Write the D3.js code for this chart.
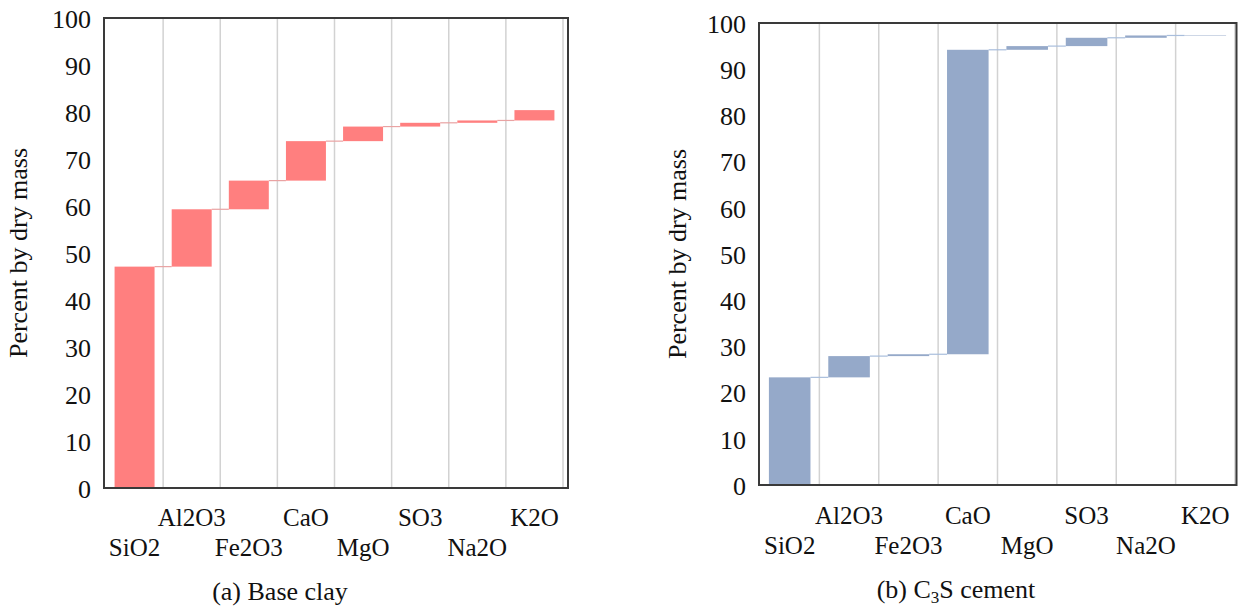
<!DOCTYPE html>
<html>
<head>
<meta charset="utf-8">
<script src="https://cdn.jsdelivr.net/npm/d3@7"></script>
<style>
html, body { margin: 0; padding: 0; background: #ffffff; }
</style>
</head>
<body>
<svg id="chart" width="1242" height="608"></svg>
<script>
// ---- data ----
const categories = ["SiO2", "Al2O3", "Fe2O3", "CaO", "MgO", "SO3", "Na2O", "K2O"];
const clayValues = [47.1, 12.2, 6.1, 8.4, 3.1, 0.8, 0.5, 2.2];
const cementValues = [23.3, 4.6, 0.4, 65.9, 0.8, 1.8, 0.5, 0.1];
const yTicks = [0, 10, 20, 30, 40, 50, 60, 70, 80, 90, 100];
const yDomain = [0, 100];
const axisTitle = "Percent by dry mass";

const FONT = "Liberation Serif";

const svg = d3.select("#chart");

const panels = [
  {
    values: clayValues,
    caption: [{ t: "(a) Base clay" }],
    frame: { x0: 104, x1: 568, y0: 18, y1: 488 },
    plotX: [106, 563],
    plotY: [488, 18],
    tickLabelX: 91,
    titleX: 27,
    captionX: 280, captionY: 600,
    row1Y: 526, row2Y: 556,
    barColor: "#ff7f7f",
    connColor: "#e9a3a3"
  },
  {
    values: cementValues,
    caption: [{ t: "(b) C" }, { t: "3", sub: true }, { t: "S cement" }],
    frame: { x0: 759, x1: 1236.5, y0: 23, y1: 485 },
    plotX: [760, 1235],
    plotY: [485, 23],
    tickLabelX: 746,
    titleX: 686,
    captionX: 956, captionY: 598,
    row1Y: 524, row2Y: 554,
    barColor: "#95a9c9",
    connColor: "#a9bedc"
  }
];

function styleText(sel, size) {
  return sel.attr("font-family", FONT).attr("font-size", size).attr("fill", "#111111");
}

function drawPanel(p) {
  const g = svg.append("g");
  const x = d3.scaleBand().domain(categories).range(p.plotX)
    .paddingInner(0.3).paddingOuter(0.15);
  const y = d3.scaleLinear().domain(yDomain).range(p.plotY);
  const step = x.step();
  const bw = x.bandwidth();
  const edge = c => x(c) - step * 0.15;

  // vertical gridlines at category boundaries
  const bounds = categories.map(edge).concat([edge(categories[categories.length - 1]) + step]);
  g.append("g").selectAll("line").data(bounds.slice(1)).join("line")
    .attr("x1", d => d).attr("x2", d => d)
    .attr("y1", p.frame.y0).attr("y2", p.frame.y1)
    .attr("stroke", "#d2d2d2").attr("stroke-width", 1.5);

  // waterfall bars
  let cum = 0;
  const rows = p.values.map((v, i) => {
    const r = { cat: categories[i], start: cum, end: cum + v };
    cum += v;
    return r;
  });

  // connectors
  g.append("g").selectAll("line").data(rows.slice(0, -1)).join("line")
    .attr("x1", d => x(d.cat) + bw)
    .attr("x2", (d, i) => x(rows[i + 1].cat))
    .attr("y1", d => y(d.end)).attr("y2", d => y(d.end))
    .attr("stroke", p.connColor).attr("stroke-width", 1.2);

  g.append("g").selectAll("rect").data(rows).join("rect")
    .attr("x", d => x(d.cat))
    .attr("width", bw)
    .attr("y", d => y(d.end))
    .attr("height", d => y(d.start) - y(d.end))
    .attr("fill", p.barColor);

  // frame
  g.append("rect")
    .attr("x", p.frame.x0).attr("y", p.frame.y0)
    .attr("width", p.frame.x1 - p.frame.x0).attr("height", p.frame.y1 - p.frame.y0)
    .attr("fill", "none").attr("stroke", "#3a3a3a").attr("stroke-width", 2);

  // y tick labels
  styleText(g.append("g").selectAll("text").data(yTicks).join("text"), 26)
    .attr("x", p.tickLabelX).attr("y", d => y(d))
    .attr("dy", "0.38em")
    .attr("text-anchor", "end")
    .text(d => d);

  // x category labels, staggered rows
  styleText(g.append("g").selectAll("text").data(categories).join("text"), 25)
    .attr("x", d => x(d) + bw / 2)
    .attr("y", (d, i) => (i % 2 === 1 ? p.row1Y : p.row2Y))
    .attr("text-anchor", "middle")
    .text(d => d);

  // axis title
  const cy = (p.frame.y0 + p.frame.y1) / 2;
  styleText(g.append("text"), 26)
    .attr("transform", `translate(${p.titleX},${cy}) rotate(-90)`)
    .attr("text-anchor", "middle")
    .text(axisTitle);

  // caption
  const cap = styleText(g.append("text"), 26)
    .attr("x", p.captionX).attr("y", p.captionY)
    .attr("text-anchor", "middle");
  let shifted = false;
  p.caption.forEach(part => {
    const ts = cap.append("tspan").text(part.t);
    if (part.sub) {
      ts.attr("font-size", 17).attr("dy", 5);
      shifted = true;
    } else if (shifted) {
      ts.attr("dy", -5);
      shifted = false;
    }
  });
}

panels.forEach(drawPanel);
</script>
</body>
</html>
